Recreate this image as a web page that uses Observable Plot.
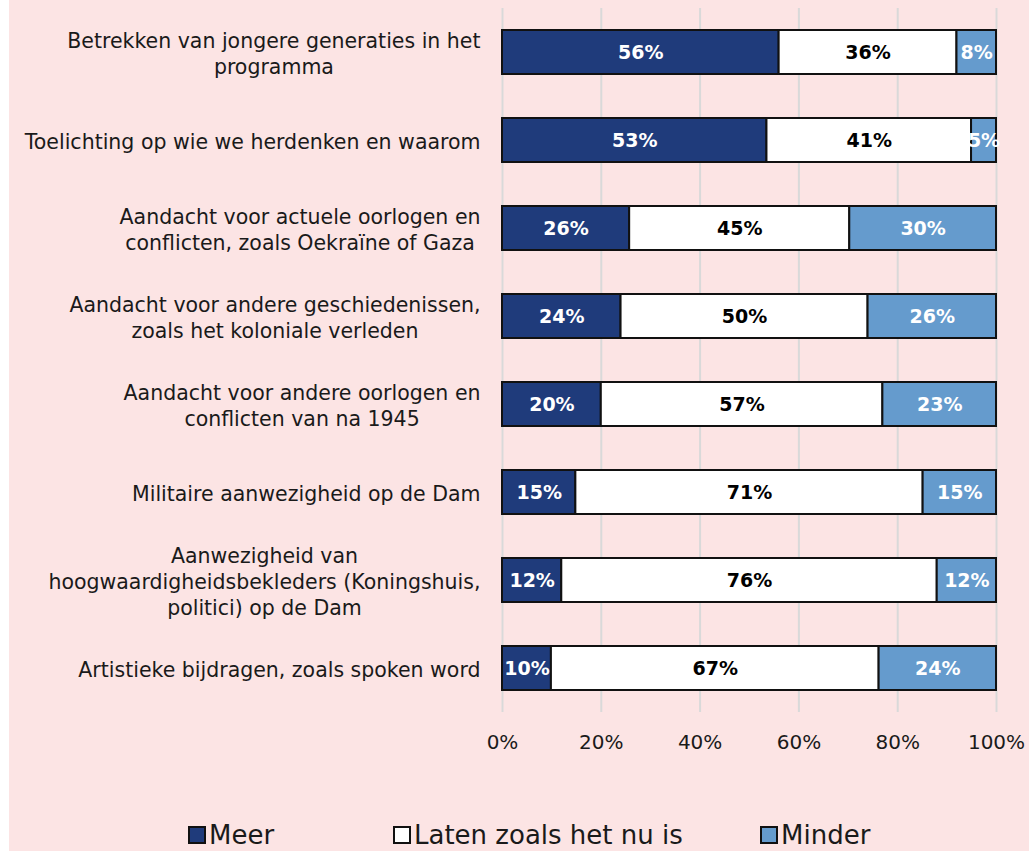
<!DOCTYPE html>
<html>
<head>
<meta charset="utf-8">
<script src="https://cdn.jsdelivr.net/npm/d3@7"></script>
<script src="https://cdn.jsdelivr.net/npm/@observablehq/plot@0.6"></script>
<style>
  html, body { margin: 0; padding: 0; background: #ffffff; }
  #wrap { position: absolute; left: 9px; top: 0; width: 1020px; height: 851px; background: #fce4e4; overflow: hidden; font-family: "DejaVu Sans", sans-serif; }
  #chart { position: absolute; left: 0; top: 0; }
  .leg { position: absolute; top: 820px; font-size: 26px; color: #1a1a1a; white-space: nowrap; display: flex; align-items: center; }
  .sw { display: inline-block; width: 14px; height: 14px; border: 2px solid #111; margin-right: 3px; }
</style>
</head>
<body>
<div id="wrap">
  <div id="chart"></div>
  <div id="legend"></div>
</div>
<script>
const categories = [
  "Betrekken van jongere generaties in het\nprogramma",
  "Toelichting op wie we herdenken en waarom",
  "Aandacht voor actuele oorlogen en\nconflicten, zoals Oekraïne of Gaza",
  "Aandacht voor andere geschiedenissen,\nzoals het koloniale verleden",
  "Aandacht voor andere oorlogen en\nconflicten van na 1945",
  "Militaire aanwezigheid op de Dam",
  "Aanwezigheid van\nhoogwaardigheidsbekleders (Koningshuis,\npolitici) op de Dam",
  "Artistieke bijdragen, zoals spoken word"
];
const seriesNames = ["Meer", "Laten zoals het nu is", "Minder"];
const meer   = [56, 53, 26, 24, 20, 15, 12, 10];
const laten  = [36, 41, 45, 50, 57, 71, 76, 67];
const minder = [8, 5, 30, 26, 23, 15, 12, 24];
const colors = ["#1f3b7b", "#ffffff", "#659bcd"];
const xTicks = [0, 0.2, 0.4, 0.6, 0.8, 1];

const seriesValues = [meer, laten, minder];
const data = [];
seriesNames.forEach((s, si) => {
  categories.forEach((c, ci) => {
    data.push({category: c, series: s, value: seriesValues[si][ci]});
  });
});

const stackOpts = {x: "value", y: "category", z: "series", offset: "normalize"};
const isLaten = d => d.series === "Laten zoals het nu is";

const plot = Plot.plot({
  width: 1020,
  height: 770,
  marginLeft: 493,
  marginRight: 33,
  marginTop: 8,
  marginBottom: 58,
  style: {background: "transparent", fontFamily: "DejaVu Sans, sans-serif", fontSize: "20px", color: "#1a1a1a"},
  x: {domain: [0, 1]},
  y: {domain: categories, paddingInner: 0.5, paddingOuter: 0.25},
  color: {domain: seriesNames, range: colors},
  marks: [
    Plot.ruleX(xTicks, {stroke: "#d9d9d9", strokeWidth: 2}),
    Plot.axisX({ticks: xTicks, tickSize: 0, tickPadding: 22, tickFormat: d => Math.round(d * 100) + "%", fontSize: 20, label: null}),
    Plot.axisY({tickSize: 0, tickPadding: 22, label: null, fontSize: 20.5, lineHeight: 1.28}),
    Plot.barX(data, Plot.stackX({...stackOpts, fill: "series", stroke: "#111", strokeWidth: 2})),
    Plot.text(data, Plot.stackX({...stackOpts, text: d => isLaten(d) ? "" : d.value + "%", fill: "white", fontWeight: "bold", fontSize: 19})),
    Plot.text(data, Plot.stackX({...stackOpts, text: d => isLaten(d) ? d.value + "%" : "", fill: "black", fontWeight: "bold", fontSize: 19}))
  ]
});
document.getElementById("chart").appendChild(plot);

// center multi-line tick labels within their block, block right-aligned
plot.querySelectorAll('g[aria-label="y-axis tick label"] text').forEach(t => {
  const spans = t.querySelectorAll("tspan");
  if (spans.length > 1) {
    const w = t.getBBox().width;
    t.setAttribute("text-anchor", "middle");
    spans.forEach(s => s.setAttribute("x", -w / 2));
  }
});

// legend
const legendPos = [179, 384, 751];
const legend = document.getElementById("legend");
seriesNames.forEach((s, i) => {
  const item = document.createElement("div");
  item.className = "leg";
  item.style.left = legendPos[i] + "px";
  const sw = document.createElement("span");
  sw.className = "sw";
  sw.style.background = colors[i];
  item.appendChild(sw);
  item.appendChild(document.createTextNode(s));
  legend.appendChild(item);
});
</script>
</body>
</html>
